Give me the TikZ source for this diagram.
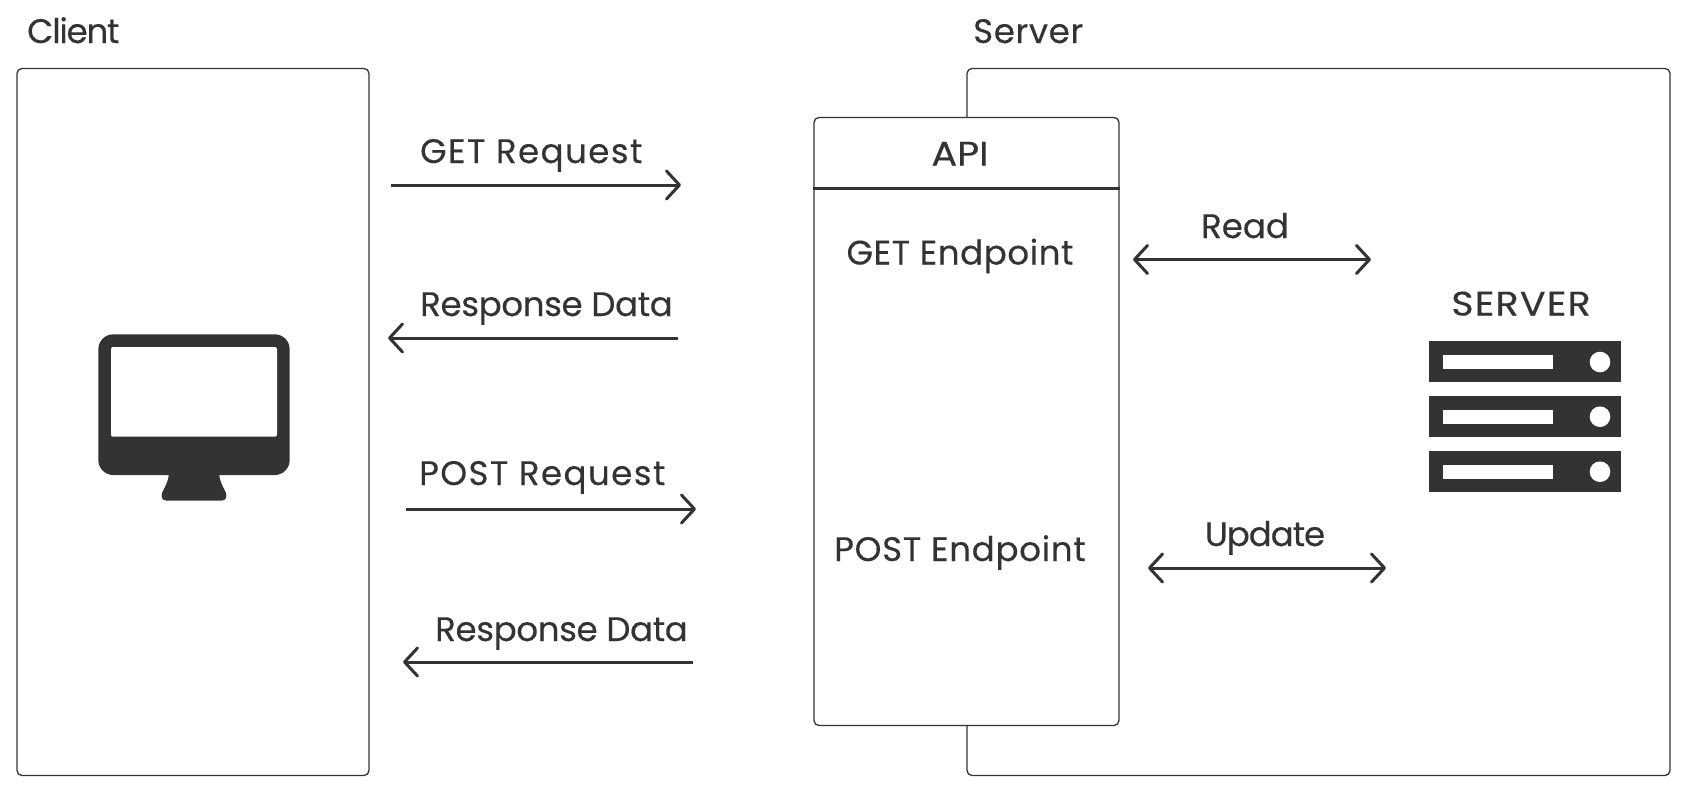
\documentclass[tikz,border=0pt]{standalone}
\usepackage{fontspec}
\setmainfont{Poppins}[FakeBold=0.3]
\usetikzlibrary{arrows.meta}
\definecolor{ink}{HTML}{333333}

\begin{document}
\begin{tikzpicture}[x=1pt,y=-1pt,
  font=\fontsize{34}{34}\selectfont,text=ink,
  box/.style={draw=ink,line width=1.3pt,fill=white,rounded corners=5pt,inner sep=0pt},
  txt/.style={inner sep=0pt,anchor=base},
  txtl/.style={inner sep=0pt,anchor=base west},
  sp/.style={font=\fontsize{34}{34}\selectfont\addfontfeature{LetterSpace=#1}},
  caps/.style={font=\fontsize{34}{34}\selectfont\addfontfeature{FakeStretch=1.12,LetterSpace=#1}},
  barb/.tip={Straight Barb[length=13pt,width=28pt,line width=3pt,round]},
  link/.style={draw=ink,line width=3pt},
  one/.style={link,-barb},
  two/.style={link,barb-barb}]
\useasboundingbox (0,0) rectangle (1686,785);

\node[box,minimum width=352pt,minimum height=707pt] (client) at (193,422) {};
\node[box,minimum width=703pt,minimum height=707pt] (server) at (1318.5,422) {};
\node[box,minimum width=305pt,minimum height=608pt] (api) at (966.5,421.5) {};
\draw[link] (api.west |- 0,188) -- (api.east |- 0,188);

\node[txtl,sp=-3.5] (clientlabel) at (27,43) {Client};
\node[txtl,sp=2] (serverlabel) at (973,43) {Server};
\node[txt,caps=0] (apilabel) at (960,165.5) {API};
\node[txt,sp=1.8] (getend) at (960,264.5) {GET Endpoint};
\node[txt,sp=2.2] (postend) at (960,561) {POST Endpoint};
\node[txt,caps=3.5] (serverbig) at (1521,315.5) {SERVER};

\coordinate (g1) at (391,185);
\coordinate (g2) at (681,185);
\coordinate (r1) at (678,338);
\coordinate (r2) at (388,338);
\coordinate (p1) at (406,509);
\coordinate (p2) at (696,509);
\coordinate (s1) at (693,662);
\coordinate (s2) at (403,662);
\coordinate (d1) at (1133,259.5);
\coordinate (d2) at (1371,259.5);
\coordinate (u1) at (1148,568);
\coordinate (u2) at (1386,568);

\draw[one] (g1) -- (g2);
\draw[one] (r1) -- (r2);
\draw[one] (p1) -- (p2);
\draw[one] (s1) -- (s2);
\draw[two] (d1) -- (d2);
\draw[two] (u1) -- (u2);

\node[txtl,sp=4.3] (getreq) at (420,163) {GET Request};
\node[txtl,sp=-1] (getres) at (420,316) {Response Data};
\node[txtl,sp=4.3] (postreq) at (419,485) {POST Request};
\node[txtl,sp=-1] (postres) at (435,641) {Response Data};
\node[txt] (readlabel) at (1245,238) {Read};
\node[txt,sp=-3] (updatelabel) at (1265,546) {Update};

\fill[ink,rounded corners=15pt] (98.3,334.3) rectangle (289.7,475);
\fill[white,rounded corners=2pt] (111,347) rectangle (277,436.7);
\fill[ink] (168.7,470) -- (168.7,475) .. controls (168,483) and (164,488) .. (162,493)
  .. controls (161,497) and (162,500.7) .. (167,500.7) -- (221,500.7)
  .. controls (226,500.7) and (227,497) .. (226,493)
  .. controls (224,488) and (220,483) .. (219.3,475) -- (219.3,470) -- cycle;

\fill[ink] (1429,341.3) rectangle (1621,382.3);
\fill[white] (1442.7,355) rectangle (1552.7,368.7);
\fill[white] (1600,362) circle (10.3);

\fill[ink] (1429,396.3) rectangle (1621,437.3);
\fill[white] (1442.7,410) rectangle (1552.7,423.7);
\fill[white] (1600,416.7) circle (10.3);

\fill[ink] (1429,451.3) rectangle (1621,492.3);
\fill[white] (1442.7,464.7) rectangle (1552.7,478.5);
\fill[white] (1600,471.7) circle (10.3);

\end{tikzpicture}
\end{document}
